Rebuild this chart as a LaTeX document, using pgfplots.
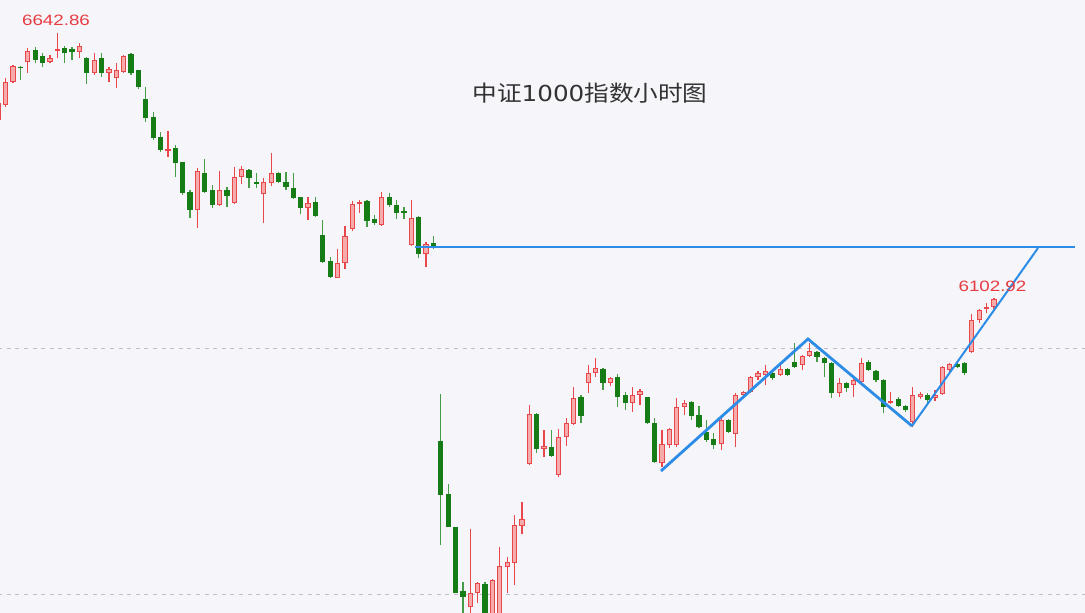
\documentclass[border=0pt]{standalone}
\usepackage{pgfplots}
\pgfplotsset{compat=1.18}
\usepackage{pgfplotstable}
\usepackage{graphicx}
\usepackage{fontspec}
\setmainfont{Liberation Sans}
\newfontfamily\cjk{Noto Sans CJK SC}
\newfontfamily\dejavu{DejaVu Sans}
\definecolor{bg}{RGB}{245,245,250}
\definecolor{upRed}{RGB}{232,72,76}
\definecolor{upFill}{RGB}{246,170,170}
\definecolor{dnGreen}{RGB}{22,125,22}
\definecolor{dnWick}{RGB}{70,155,70}
\definecolor{lineBlue}{RGB}{45,140,230}
\definecolor{labRed}{RGB}{230,60,65}
\definecolor{titleGray}{RGB}{50,50,50}
\definecolor{dashGray}{RGB}{190,190,198}

% up (red) candles: index open high low close
\pgfplotstableread{
i o h l c
0 6465 6506 6459 6500
1 6496 6551 6492 6543
2 6543 6577 6541 6575
4 6584 6612 6561 6606
7 6584 6598 6581 6592
8 6606 6642.86 6591 6610
11 6604 6622 6591 6616
13 6561 6601 6557 6587
15 6561 6574 6543 6569
16 6551 6581 6530 6567
17 6563 6597 6561 6596
23 6402 6443 6390 6406
27 6282 6368 6245 6361
30 6292 6361 6290 6323
32 6296 6370 6294 6349
33 6349 6372 6335 6366
36 6315 6347 6256 6339
37 6337 6398 6331 6357
42 6286 6308 6262 6296
46 6144 6203 6144 6174
47 6174 6250 6162 6229
48 6243 6300 6239 6294
49 6294 6302 6276 6298
52 6252 6319 6250 6309
56 6211 6302 6209 6266
58 6192 6217 6166 6213
64 5474 5633 5455 5503
65 5503 5525 5482 5523
67 5448 5531 5431 5529
68 5437 5596 5427 5558
69 5556 5576 5503 5566
70 5564 5661 5519 5641
71 5639 5688 5623 5653
72 5765 5885 5763 5867
74 5796 5834 5779 5802
76 5743 5836 5739 5820
77 5820 5859 5802 5849
78 5847 5922 5845 5900
80 5930 5967 5910 5950
81 5950 5981 5942 5961
83 5930 5942 5924 5940
86 5889 5922 5871 5906
87 5906 5918 5885 5914
90 5767 5834 5759 5806
91 5804 5838 5798 5836
92 5804 5900 5800 5881
93 5881 5895 5865 5889
98 5806 5859 5794 5855
100 5826 5910 5800 5906
101 5906 5914 5902 5912
102 5912 5944 5910 5942
103 5942 5954 5936 5950
104 5946 5967 5926 5954
106 5946 5967 5944 5958
109 5967 5987 5956 5985
110 5985 6011 5983 5995
114 5910 5940 5901 5930
116 5926 5938 5901 5936
117 5932 5981 5930 5971
121 5889 5912 5887 5893
124 5851 5922 5840 5906
125 5902 5912 5897 5908
127 5900 5916 5893 5906
128 5908 5965 5906 5963
129 5956 5971 5952 5969
132 5993 6070 5990 6058
133 6058 6081 6052 6079
134 6081 6093 6072 6085
135 6085 6102.92 6081 6101
}\upT

% down (green) candles: index open high low close
\pgfplotstableread{
i o h l c
3 6574 6575 6547 6572
5 6608 6614 6581 6587
6 6595 6602 6573 6581
9 6612 6616 6581 6602
10 6610 6614 6587 6604
12 6592 6594 6538 6561
14 6591 6601 6553 6561
18 6599 6601 6557 6561
19 6567 6567 6528 6533
20 6508 6532 6461 6469
21 6471 6481 6424 6429
22 6431 6441 6400 6404
24 6408 6414 6349 6378
25 6380 6380 6313 6317
26 6319 6323 6266 6282
28 6357 6386 6317 6319
29 6323 6333 6286 6292
31 6323 6329 6288 6311
34 6364 6366 6327 6347
35 6339 6357 6327 6335
38 6357 6359 6337 6339
39 6339 6359 6323 6329
40 6327 6357 6304 6306
41 6308 6308 6274 6286
43 6298 6308 6268 6270
44 6231 6262 6174 6176
45 6178 6186 6144 6146
50 6300 6302 6248 6260
51 6264 6272 6252 6256
53 6309 6317 6288 6292
54 6292 6302 6264 6276
55 6280 6288 6264 6276
57 6268 6270 6184 6192
59 6215 6229 6203 6207
60 5812 5908 5600 5702
61 5704 5725 5637 5637
62 5637 5637 5502 5503
63 5507 5525 5437 5494
66 5521 5525 5427 5448
73 5867 5869 5788 5796
75 5800 5834 5779 5781
79 5902 5906 5849 5863
82 5959 5961 5916 5930
84 5942 5948 5881 5902
85 5906 5912 5875 5889
88 5902 5902 5847 5849
89 5849 5859 5767 5769
94 5891 5893 5855 5863
95 5865 5883 5838 5840
96 5830 5855 5810 5814
97 5816 5828 5796 5804
99 5855 5857 5828 5830
105 5950 5958 5936 5940
107 5958 5960 5944 5946
108 5973 6011 5960 5962
111 5993 5995 5973 5983
112 5981 5983 5942 5971
113 5971 5973 5899 5910
115 5930 5932 5912 5920
118 5973 5977 5954 5956
119 5954 5956 5932 5936
120 5936 5938 5869 5881
122 5897 5902 5881 5883
123 5883 5885 5871 5875
126 5906 5910 5889 5895
130 5969 5971 5960 5963
131 5971 5973 5946 5950
}\dnT

\pgfplotsset{candle/.style={draw=none, mark=none, forget plot,
  error bars/.cd, y dir=plus, y explicit, error mark=none}}

\begin{document}
\begin{tikzpicture}
\path[use as bounding box] (0,0) rectangle (542.5pt,306.5pt);
\fill[bg] (0,0) rectangle (542.5pt,306.5pt);
\begin{axis}[
  at={(0,0)}, anchor=south west,
  scale only axis, width=542.5pt, height=306.5pt,
  xmin=0.232, xmax=147.34, ymin=5461.9, ymax=6709.4,
  axis lines=none, clip=true,
]
% dashed reference levels
\addplot[dashGray, line width=0.7pt, dash pattern=on 2pt off 2.3pt, forget plot] coordinates {(0,6000) (148,6000)};
\addplot[dashGray, line width=0.7pt, dash pattern=on 2pt off 2.3pt, forget plot] coordinates {(0,5499) (148,5499)};

% wicks
\addplot[candle, error bar style={line width=0.6pt, draw=upRed, solid}]
  table[x=i, y=l, y error plus expr=\thisrow{h}-\thisrow{l}] {\upT};
\addplot[candle, error bar style={line width=0.6pt, draw=dnWick, solid}]
  table[x=i, y=l, y error plus expr=\thisrow{h}-\thisrow{l}] {\dnT};

% bodies
\addplot[candle, error bar style={line width=2.6pt, draw=upRed, solid}]
  table[x=i, y=o, y error plus expr=\thisrow{c}-\thisrow{o}] {\upT};
\addplot[candle, error bar style={line width=1.6pt, draw=upFill, solid}]
  table[x=i, y expr=\thisrow{o}+2, y error plus expr={max(\thisrow{c}-\thisrow{o}-4,0)}] {\upT};
\addplot[candle, error bar style={line width=2.6pt, draw=dnGreen, solid}]
  table[x=i, y=c, y error plus expr=\thisrow{o}-\thisrow{c}] {\dnT};

% horizontal level line and trend lines
\addplot[lineBlue, line width=0.6pt, forget plot] coordinates {(56.5,6206.8) (146.0,6206.8)};
\addplot[lineBlue, line width=1.4pt, forget plot] coordinates {(89.85,5750.9) (109.78,6019.5) (123.88,5842.5)};
\addplot[lineBlue, line width=1.0pt, forget plot] coordinates {(123.88,5842.5) (140.97,6204.7)};

% texts
\node[text=labRed, font=\fontsize{7.5}{9}\selectfont] at (rel axis cs:0.0516,0.9674) {\scalebox{1.25}[1]{6642.86}};
\node[text=labRed, font=\fontsize{7.5}{9}\selectfont] at (rel axis cs:0.9147,0.5326) {\scalebox{1.25}[1]{6102.92}};
\node[text=titleGray, font=\fontsize{11}{13}\selectfont] at (rel axis cs:0.5438,0.8483) {\scalebox{1.12}[1]{\cjk 中证\dejavu 1000\cjk 指数小时图}};
\end{axis}
\end{tikzpicture}
\end{document}
